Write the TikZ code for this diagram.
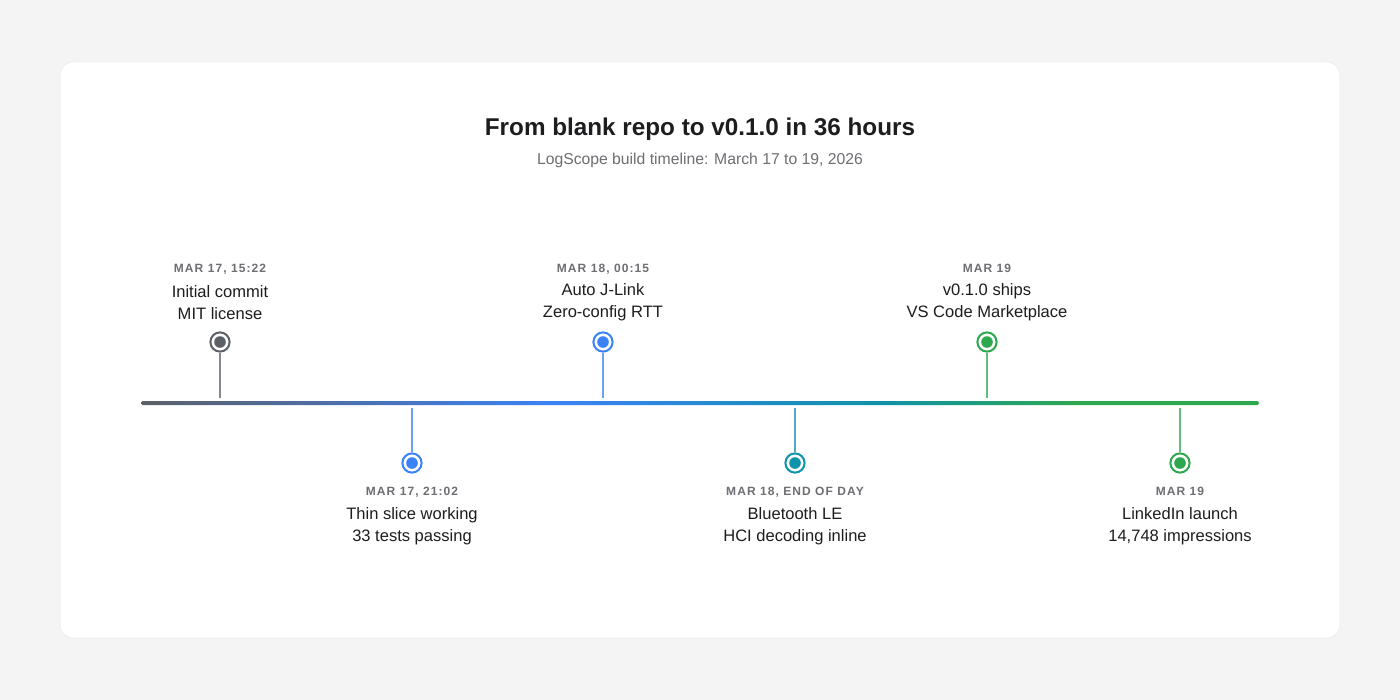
\documentclass[tikz,border=0pt]{standalone}
\usepackage{fontspec}
\setmainfont{Liberation Sans}
\newfontfamily\datefont[LetterSpace=9]{Liberation Sans}
\usetikzlibrary{positioning}
\definecolor{tlbg}{HTML}{F4F4F4}
\definecolor{tlink}{HTML}{1D1D1F}
\definecolor{tlmuted}{HTML}{6E6E73}
\definecolor{tlgray}{HTML}{5C6068}
\definecolor{tlblue}{HTML}{3B82F6}
\definecolor{tlteal}{HTML}{0E93A8}
\definecolor{tlgreen}{HTML}{2EA84F}
\pgfdeclarehorizontalshading{tlgrad}{100bp}{color(0bp)=(tlgray); color(25bp)=(tlgray); color(43.5bp)=(tlblue); color(58bp)=(tlteal); color(67bp)=(tlgreen); color(100bp)=(tlgreen)}

\begin{document}
\begin{tikzpicture}[x=0.75pt, y=-0.75pt,
  card/.style={draw=black!7, fill=white, rounded corners=10pt, line width=0.6pt},
  ttl/.style={font=\fontsize{18.2}{22}\selectfont\bfseries\color{tlink}, inner sep=0pt},
  sub/.style={font=\fontsize{11.8}{14}\selectfont\color{tlmuted}, inner sep=0pt},
  ring/.style={circle, draw=#1, line width=1.5pt, fill=white, inner sep=0pt, minimum size=14.4pt},
  stem/.style={draw=#1!75, line width=2pt},
  tdate/.style={font=\datefont\fontsize{9}{11}\selectfont\bfseries\color{tlmuted}, inner sep=0pt},
  tdesc/.style={font=\fontsize{12.4}{16.2}\selectfont\color{tlink}, align=center, inner sep=0pt},
]
\useasboundingbox[fill=tlbg] (0,0) rectangle (1400,700);
\path[card] (60,62) rectangle (1340,638);

% heading
\node[ttl, anchor=base] (title) at (700,135) {From blank repo to v0.1.0 in 36 hours};
\node[sub, anchor=base] (subtitle) at (700,164) {LogScope build timeline: March 17 to 19, 2026};

% axis
\shade[shading=tlgrad, rounded corners=1.5pt] (141,401) rectangle (1259,405);
\coordinate (a1) at (220,398);
\coordinate (a2) at (412,408);
\coordinate (a3) at (603,398);
\coordinate (a4) at (795,408);
\coordinate (a5) at (987,398);
\coordinate (a6) at (1180,408);

% markers
\node[ring=tlgray]  (m1) at (220,342) {};
\node[ring=tlblue]  (m2) at (412,463) {};
\node[ring=tlblue]  (m3) at (603,342) {};
\node[ring=tlteal]  (m4) at (795,463) {};
\node[ring=tlgreen] (m5) at (987,342) {};
\node[ring=tlgreen] (m6) at (1180,463) {};
\fill[tlgray]  (m1) circle (5.8);
\fill[tlblue]  (m2) circle (5.8);
\fill[tlblue]  (m3) circle (5.8);
\fill[tlteal]  (m4) circle (5.8);
\fill[tlgreen] (m5) circle (5.8);
\fill[tlgreen] (m6) circle (5.8);
\draw[stem=tlgray]  (m1) -- (a1);
\draw[stem=tlblue]  (m2) -- (a2);
\draw[stem=tlblue]  (m3) -- (a3);
\draw[stem=tlteal]  (m4) -- (a4);
\draw[stem=tlgreen] (m5) -- (a5);
\draw[stem=tlgreen] (m6) -- (a6);

% labels above
\node[tdate, anchor=base] (d1) at (220,272) {MAR 17, 15:22};
\node[tdate, anchor=base] (d3) at (603,272) {MAR 18, 00:15};
\node[tdate, anchor=base] (d5) at (987,272) {MAR 19};
\node[tdesc] (t1) at (220,302.5) {Initial commit\\MIT license};
\node[tdesc] (t3) at (603,302.5) {Auto J-Link\\Zero-config RTT};
\node[tdesc] (t5) at (987,302.5) {v0.1.0 ships\\VS Code Marketplace};

% labels below
\node[tdate, anchor=base] (d2) at (412,495) {MAR 17, 21:02};
\node[tdate, anchor=base] (d4) at (795,495) {MAR 18, END OF DAY};
\node[tdate, anchor=base] (d6) at (1180,495) {MAR 19};
\node[tdesc] (t2) at (412,526.5) {Thin slice working\\33 tests passing};
\node[tdesc] (t4) at (795,526.5) {Bluetooth LE\\HCI decoding inline};
\node[tdesc] (t6) at (1180,526.5) {LinkedIn launch\\14,748 impressions};
\end{tikzpicture}
\end{document}
